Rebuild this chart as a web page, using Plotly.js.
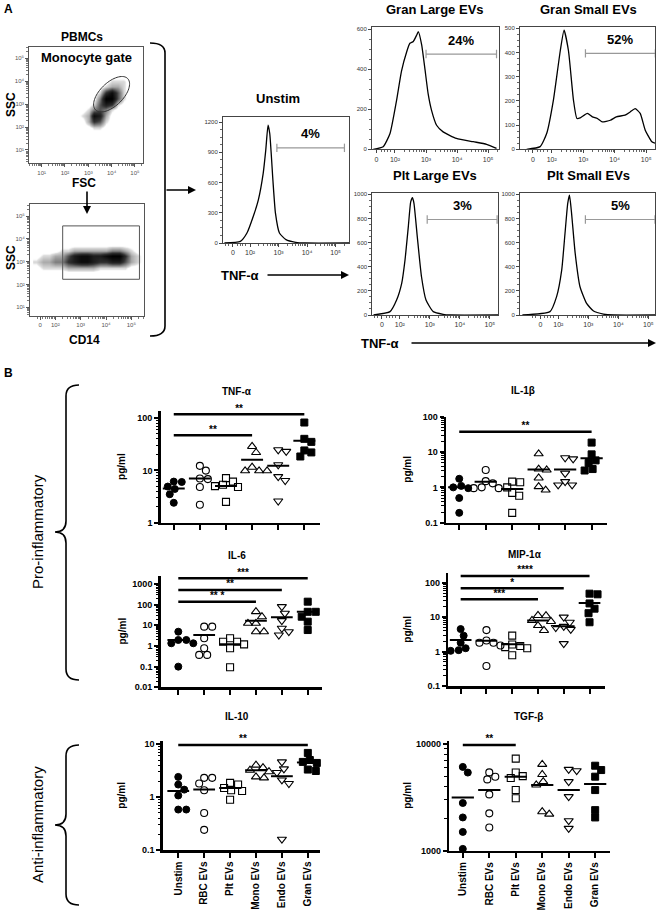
<!DOCTYPE html>
<html><head><meta charset="utf-8">
<script src="https://cdn.plot.ly/plotly-3.0.1.min.js"></script>
<style>html,body{margin:0;padding:0;background:#fff}#chart{width:662px;height:922px}</style>
</head><body><div id="chart"></div>
<script>
// ================= DATA =================
const categories = ["Unstim", "RBC EVs", "Plt EVs", "Mono EVs", "Endo EVs", "Gran EVs"];

// Panel B: cytokine values (pg/ml), one inner array per category
const tnfValues  = [[6.1,6.0,4.9,4.4,3.5,2.4],[12.2,9.9,7.0,6.8,4.8,2.2],[7.1,6.1,5.3,5.0,4.8,2.5],[28.6,21.9,11.5,9.8,9.8,9.8],[24.7,23,12.8,7.6,6.4,2.6],[82,40,35,24,22,18.4]];
const tnfCenter  = [4.5,7.0,5.0,15.9,12.2,36.7];
const tnfSig     = [[0,5,118,"**"],[0,3,47,"**"]];

const il1bValues = [[1.75,1.1,1.0,0.95,0.5,0.19],[3.1,1.5,1.3,1.0,0.95,0.95],[1.45,1.4,1.0,0.7,0.58,0.19],[8.9,3.3,3.1,1.85,1.05,0.84],[6.9,6.4,2.5,1.45,1.17,1.17],[18.5,8.6,5.8,4.9,3.3,3.0]];
const il1bCenter = [1.0,1.45,0.9,3.2,3.2,6.7];
const il1bSig    = [[0,5,37.6,"**"]];

const il6Values  = [[4.9,1.95,1.95,1.35,1.35,0.1],[8.6,8.6,2.35,0.77,0.37,0.37],[2.35,1.6,1.6,1.2,0.77,0.093],[46,26,12.5,12.5,4.9,4.9],[80,38,16.8,7.2,4.9,3.4],[139,45,45,26,15,5.9]];
const il6Center  = [1.95,3.4,1.2,16.8,24.4,45.7];
const il6Sig     = [[0,5,1890,"***"],[0,4,513,"**"],[0,3,139,"** *"]];

const mipValues  = [[4.5,2.9,1.8,1.25,1.1,1.05],[4.2,2.1,1.8,1.8,1.5,0.38],[2.9,1.6,1.45,1.35,1.25,0.78],[11.2,11.0,8.0,7.5,5.7,4.1],[10,7.1,5.4,5.0,4.4,1.7],[48,46,25,17.6,13,7.1]];
const mipCenter  = [2.15,2.06,1.64,8.0,5.4,25.8];
const mipSig     = [[0,5,157,"****"],[0,4,69,"*"],[0,3,33,"***"]];

const il10Values = [[2.4,1.72,1.38,1.07,0.58,0.58],[2.3,2.3,1.8,1.34,0.5,0.24],[1.85,1.72,1.48,1.34,1.3,0.89],[4.0,3.6,3.2,3.0,2.4,2.3],[4.6,3.4,2.9,2.1,1.8,0.16],[6.8,5.0,4.6,4.4,3.3,3.1]];
const il10Center = [1.3,1.38,1.48,3.2,2.47,4.5];
const il10Sig    = [[0,5,9.6,"**"]];

const tgfValues  = [[6100,5400,2800,2050,1500,1040],[5420,4940,4660,3370,2240,1650],[7300,5400,5000,4800,3700,3100],[6440,5180,4440,4130,2320,2200],[5780,5620,4440,3210,1910,1620],[6260,5700,4940,3700,2400,2050]];
const tgfCenter  = [3160,3700,4940,4130,3700,4220];
const tgfSig     = [[0,2,9800,"**"]];

// Panel A: TNF-α histograms (x = log10 fluorescence position, y = count)
const unstimHistX    = [1.1,1.66,1.89,2.11,2.29,2.46,2.55,2.63,2.69,2.8,2.89,3.03,3.26,3.6,3.94,5.5];
const unstimHistY    = [0,16,99,263,428,691,921,1168,1086,625,296,99,33,7,0,0];
const granLargeHistX = [1.3,1.62,1.84,2.05,2.21,2.38,2.48,2.59,2.7,2.75,2.86,2.96,3.07,3.18,3.34,3.55,3.98,4.52,4.95,5.27];
const granLargeHistY = [0,13,79,243,390,488,529,538,570,587,521,406,275,193,120,87,54,38,25,5];
const granSmallHistX = [1.2,1.63,1.84,2.05,2.27,2.39,2.53,2.69,2.8,2.92,3.13,3.29,3.45,3.6,3.86,4.05,4.33,4.49,4.65,4.81,4.97,5.18,5.29];
const granSmallHistY = [0,11,66,202,407,492,407,202,127,131,148,134,127,113,120,134,141,154,168,148,79,31,25];
const pltLargeHistX  = [1.12,1.67,1.89,2.06,2.17,2.28,2.36,2.42,2.47,2.58,2.72,2.87,3.11,3.44,3.67,5.3];
const pltLargeHistY  = [0,28,124,262,455,730,937,972,923,647,317,124,28,6,0,0];
const pltSmallHistX  = [0.8,1.72,1.94,2.11,2.22,2.31,2.37,2.44,2.56,2.72,2.94,3.17,3.5,3.83,5.3];
const pltSmallHistY  = [0,28,152,372,675,923,992,840,510,234,96,33,8,0,0];
// gates: [start, end, level, label]
const unstimGate    = [2.94,5.31,944,"4%"];
const granLargeGate = [3.0,5.27,475,"24%"];
const granSmallGate = [3.07,5.29,396,"52%"];
const pltLargeGate  = [2.91,5.24,791,"3%"];
const pltSmallGate  = [2.9,5.22,791,"5%"];

// Panel A: scatter density (decade positions)
const pbmcFscBins = [2.5,2.75,3.0,3.25,3.5,3.75,4.0,4.25,4.5,4.75,5.0];
const pbmcSscBins = [1.75,2.0,2.25,2.5,2.75,3.0,3.25,3.5,3.75,4.0,4.25];
const pbmcDensity = [
 [0,0,0,0,0,0,0,0,0,0,0],
 [0,0,0,1,1,0,0,0,0,0,0],
 [0,0,2,5,4,1,0,0,0,0,0],
 [0,1,2,7,6,2,0,0,0,0,0],
 [0,0,1,3,4,3,1,0,0,0,0],
 [0,0,0,1,4,6,5,1,0,0,0],
 [0,0,0,0,3,8,8,4,1,0,0],
 [0,0,0,0,1,5,7,4,1,0,0],
 [0,0,0,0,0,1,2,2,1,0,0],
 [0,0,0,0,0,0,1,1,1,0,0],
 [0,0,0,0,0,0,0,0,0,0,0]];
const cd14Bins    = [1.25,1.5,1.75,2.0,2.25,2.5,2.75,3.0,3.25,3.5,3.75,4.0,4.25,4.5,4.75,5.0,5.25,5.5];
const cd14SscBins = [2.5,2.75,3.0,3.25,3.5,3.75];
const cd14Density = [
 [0,0,0,0,0,0,0,0,0,0,0,0,0,0,0,0,0,0],
 [0,1,1,1,1,2,2,2,2,2,1,1,1,1,1,0,0,0],
 [1,2,2,3,3,5,6,7,7,6,5,5,6,6,4,2,1,0],
 [0,1,1,2,2,4,6,7,7,6,6,7,8,8,5,2,1,0],
 [0,0,0,0,1,1,2,2,2,2,2,2,3,3,2,1,0,0],
 [0,0,0,0,0,0,0,0,0,0,0,0,0,0,0,0,0,0]];
// gates: ellipse [cx, cy, semi-major, semi-minor, angle deg], rectangle [x0,x1,y0,y1]
const monocyteGate = [4.0,3.43,0.97,0.5,45];
const cd14Gate = [2.29,5.32,2.23,4.57];

// ================= BUILD =================
const W = 662, H = 922;
const FONT = '"Liberation Sans", Arial, Helvetica, sans-serif';
const px2x = p => p / W, px2y = p => 1 - p / H;
const P = (x, y) => (x / W).toFixed(5) + ',' + (1 - y / H).toFixed(5);
const sfx = n => n === 1 ? '' : String(n);

const traces = [];
const layout = {
  width: W, height: H, margin: {l:0, r:0, t:0, b:0},
  paper_bgcolor: '#fff', plot_bgcolor: 'rgba(0,0,0,0)',
  font: {family: FONT, color: '#000'}, showlegend: false, hovermode: false,
  annotations: [], shapes: []
};

function txt(t, x, y, size, o) {
  o = o || {};
  return {text: t, x: px2x(x), y: px2y(y), xref: 'paper', yref: 'paper', showarrow: false,
    xanchor: 'center', yanchor: 'middle', textangle: o.angle || 0,
    font: {family: FONT, size: size, color: '#000', weight: o.normal ? 'normal' : 'bold'}};
}
function arrow(x0, y0, x1, y1) {
  return {text: '', x: px2x(x1), y: px2y(y1), xref: 'paper', yref: 'paper', ax: x0 - x1, ay: y0 - y1,
    axref: 'pixel', ayref: 'pixel', showarrow: true, arrowhead: 2, arrowsize: 1, arrowwidth: 1.6, arrowcolor: '#000'};
}

const SUP = {1: '¹', 2: '²', 3: '³', 4: '⁴', 5: '⁵'};
const sup = n => '10' + SUP[n];
function logMinor(lo, hi) {
  const v = [];
  for (let d = Math.floor(lo); d <= Math.ceil(hi); d++) for (let k = 2; k <= 9; k++) {
    const p = d + Math.log10(k); if (p > lo && p < hi) v.push(p);
  }
  return v;
}

// ---- flow scatter plots ----
function flowScatter(n, box, xr, yr, xt, xtt, yt, ytt, xs, ys, z) {
  const s = sfx(n);
  layout['xaxis' + s] = {domain: [px2x(box[0]), px2x(box[1])], range: xr, anchor: 'y' + s,
    showline: true, mirror: true, linecolor: '#555', linewidth: 1, showgrid: false, zeroline: false,
    ticks: 'outside', ticklen: 3, tickcolor: '#555', tickmode: 'array', tickvals: xt, ticktext: xtt,
    tickfont: {size: 6, color: '#555'},
    minor: {tickmode: 'array', tickvals: logMinor(xr[0], xr[1]), ticks: 'outside', ticklen: 2, tickcolor: '#777'}};
  layout['yaxis' + s] = {domain: [px2y(box[3]), px2y(box[2])], range: yr, anchor: 'x' + s,
    showline: true, mirror: true, linecolor: '#555', linewidth: 1, showgrid: false, zeroline: false,
    ticks: 'outside', ticklen: 3, tickcolor: '#555', tickmode: 'array', tickvals: yt, ticktext: ytt,
    tickfont: {size: 6, color: '#555'},
    minor: {tickmode: 'array', tickvals: logMinor(yr[0], yr[1]), ticks: 'outside', ticklen: 2, tickcolor: '#777'}};
  traces.push({type: 'heatmap', x: xs, y: ys, z: z, xaxis: 'x' + s, yaxis: 'y' + s, zsmooth: 'best',
    zmin: 0, zmax: 8, showscale: false, hoverinfo: 'skip',
    colorscale: [[0, 'rgba(255,255,255,0)'], [0.05, 'rgba(255,255,255,0)'], [0.1, 'rgb(225,225,225)'], [0.3, 'rgb(150,150,150)'], [0.6, 'rgb(50,50,50)'], [0.85, 'rgb(15,15,15)'], [1, 'rgb(0,0,0)']]});
}
const decTicks = [1,2,3,4,5], decText = decTicks.map(sup);
flowScatter(1, [29.3,143.3,46.7,163.3], [0.47,5.36], [0.42,5.5], decTicks, decText, decTicks, decText, pbmcFscBins, pbmcSscBins, pbmcDensity);
flowScatter(2, [30,144,204,316], [1.0,5.5], [0.62,5.53], [1.4,2,3,4,5], ['0'].concat([2,3,4,5].map(sup)), decTicks, decText, cd14Bins, cd14SscBins, cd14Density);
// gates
(function(){
  const [cx, cy, a, b, ang] = monocyteGate, t = ang * Math.PI / 180;
  let d = '';
  for (let i = 0; i <= 72; i++) {
    const u = i / 72 * 2 * Math.PI;
    const x = cx + a * Math.cos(u) * Math.cos(t) - b * Math.sin(u) * Math.sin(t);
    const y = cy + a * Math.cos(u) * Math.sin(t) + b * Math.sin(u) * Math.cos(t);
    d += (i ? 'L' : 'M') + x.toFixed(4) + ',' + y.toFixed(4);
  }
  layout.shapes.push({type: 'path', xref: 'x', yref: 'y', path: d + 'Z', line: {color: '#333', width: 1}});
  layout.shapes.push({type: 'rect', xref: 'x2', yref: 'y2', x0: cd14Gate[0], x1: cd14Gate[1], y0: cd14Gate[2], y1: cd14Gate[3], line: {color: '#555', width: 1}});
})();

// ---- histograms ----
function histPanel(n, box, xr, yr, ytv, hx, hy, gate) {
  const s = sfx(n);
  layout['xaxis' + s] = {domain: [px2x(box[0]), px2x(box[1])], range: xr, anchor: 'y' + s,
    showline: true, mirror: true, linecolor: '#444', linewidth: 1, showgrid: false, zeroline: false,
    ticks: 'outside', ticklen: 3, tickcolor: '#444', tickmode: 'array', tickvals: [1.4,2,3,4,5],
    ticktext: ['0'].concat([2,3,4,5].map(sup)), tickfont: {size: 7, color: '#333'},
    minor: {tickmode: 'array', tickvals: [1.15,1.25,1.55,1.65,1.75,1.85].concat(logMinor(2, xr[1])), ticks: 'outside', ticklen: 2, tickcolor: '#666'}};
  layout['yaxis' + s] = {domain: [px2y(box[3]), px2y(box[2])], range: yr, anchor: 'x' + s,
    showline: true, mirror: true, linecolor: '#444', linewidth: 1, showgrid: false, zeroline: false,
    ticks: 'outside', ticklen: 3, tickcolor: '#444', tickmode: 'array', tickvals: ytv,
    tickfont: {size: 6, color: '#333'},
    minor: {dtick: (ytv[1] - ytv[0]) / 4, ticks: 'outside', ticklen: 2, tickcolor: '#666'}};
  traces.push({type: 'scatter', mode: 'lines', x: hx, y: hy, xaxis: 'x' + s, yaxis: 'y' + s,
    line: {color: '#000', width: 1.3, shape: 'spline', smoothing: 0.5}, hoverinfo: 'skip'});
  traces.push({type: 'scatter', mode: 'lines+markers', x: [gate[0], gate[1]], y: [gate[2], gate[2]],
    xaxis: 'x' + s, yaxis: 'y' + s, line: {color: '#999', width: 1.2},
    marker: {symbol: 'line-ns-open', size: 6, color: '#999', line: {color: '#999', width: 1.2}}, hoverinfo: 'skip'});
  layout.annotations.push({text: gate[3], x: (gate[0] + gate[1]) / 2, y: gate[2], xref: 'x' + s, yref: 'y' + s,
    showarrow: false, yshift: 14, xanchor: 'center', yanchor: 'middle', font: {family: FONT, size: 13, weight: 'bold', color: '#000'}});
}
histPanel(3, [223,349,117,243], [1.05,5.47], [0,1250], [0,300,600,900,1200], unstimHistX, unstimHistY, unstimGate);
histPanel(4, [372,499,27,149.3], [1.26,5.35], [0,610], [0,200,400,600], granLargeHistX, granLargeHistY, granLargeGate);
histPanel(5, [520,655,27,149.3], [0.99,5.28], [0,505], [0,100,200,300,400,500], granSmallHistX, granSmallHistY, granSmallGate);
histPanel(6, [372.3,498.3,193.3,315], [1.08,5.28], [0,1008], [0,200,400,600,800,1000], pltLargeHistX, pltLargeHistY, pltLargeGate);
histPanel(7, [520,655.3,193.3,315], [0.72,5.23], [0,1008], [0,200,400,600,800,1000], pltSmallHistX, pltSmallHistY, pltSmallGate);

// ---- dot plots ----
const markerStyles = [
  {symbol: 'circle', size: 7, color: '#000', line: {color: '#000', width: 1}},
  {symbol: 'circle-open', size: 7, color: '#000', line: {color: '#000', width: 1.1}},
  {symbol: 'square-open', size: 7, color: '#000', line: {color: '#000', width: 1.1}},
  {symbol: 'triangle-up-open', size: 8, color: '#000', line: {color: '#000', width: 1.1}},
  {symbol: 'triangle-down-open', size: 8, color: '#000', line: {color: '#000', width: 1.1}},
  {symbol: 'square', size: 7, color: '#000', line: {color: '#000', width: 1}}
];
function swarm(groups, pxX, pxDec, diam) {
  return groups.map((vals, gi) => {
    const placed = [], gx = [], gy = [];
    vals.map((v, i) => i).sort((a, b) => vals[b] - vals[a]).forEach(i => {
      const yp = Math.log10(vals[i]) * pxDec;
      let off = 0;
      for (let k = 0; k < 60; k++) {
        const c = k === 0 ? 0 : (k % 2 ? Math.ceil(k / 2) : -Math.ceil(k / 2));
        if (placed.every(p => Math.hypot(p[0] - c, p[1] - yp) >= diam)) { off = c; break; }
      }
      placed.push([off, yp]); gx.push(gi + off / pxX); gy.push(vals[i]);
    });
    return [gx, gy];
  });
}
function dotPanel(c) {
  const s = sfx(c.n);
  layout['xaxis' + s] = {domain: [px2x(c.box[0]), px2x(c.box[1])], range: c.xr, anchor: 'y' + s,
    showline: true, linecolor: '#000', linewidth: 2.5, showgrid: false, zeroline: false,
    ticks: 'outside', ticklen: 5, tickwidth: 2, tickcolor: '#000', tickmode: 'array', tickvals: [0,1,2,3,4,5],
    ticktext: categories, showticklabels: c.cats, tickangle: -90,
    tickfont: {family: FONT, size: 10, weight: 'bold', color: '#000'}};
  const mv = [];
  for (let d = Math.floor(c.yr[0]); d < Math.ceil(c.yr[1]); d++) for (let k = 2; k <= 9; k++) {
    const p = d + Math.log10(k); if (p > c.yr[0] && p < c.yr[1] && p < c.maxTick) mv.push(Math.pow(10, p));
  }
  layout['yaxis' + s] = {domain: [px2y(c.box[3]), px2y(c.box[2])], type: 'log', range: c.yr, anchor: 'x' + s,
    showline: true, linecolor: '#000', linewidth: 2.5, showgrid: false, zeroline: false,
    ticks: 'outside', ticklen: 4, tickwidth: 2, tickcolor: '#000', tickmode: 'array', tickvals: c.tv, ticktext: c.tt,
    tickfont: {family: FONT, size: 9, weight: 'bold', color: '#000'},
    minor: {tickmode: 'array', tickvals: mv, ticks: 'outside', ticklen: 2.5, tickwidth: 1, tickcolor: '#000'}};
  const pxX = (c.box[1] - c.box[0]) / (c.xr[1] - c.xr[0]);
  const pxDec = (c.box[3] - c.box[2]) / (c.yr[1] - c.yr[0]);
  swarm(c.vals, pxX, pxDec, 7.2).forEach((g, gi) => {
    traces.push({type: 'scatter', mode: 'markers', x: g[0], y: g[1], xaxis: 'x' + s, yaxis: 'y' + s,
      marker: markerStyles[gi], cliponaxis: false, hoverinfo: 'skip'});
  });
  const lx = [], ly = [];
  c.center.forEach((m, i) => { lx.push(i - 0.42, i + 0.42, null); ly.push(m, m, null); });
  traces.push({type: 'scatter', mode: 'lines', x: lx, y: ly, xaxis: 'x' + s, yaxis: 'y' + s,
    line: {color: '#000', width: 2}, hoverinfo: 'skip'});
  const bx = [], by = [], tx = [], ty = [], tt = [];
  c.sig.forEach(b => { bx.push(b[0], b[1], null); by.push(b[2], b[2], null); tx.push((b[0] + b[1]) / 2); ty.push(b[2]); tt.push(b[3]); });
  traces.push({type: 'scatter', mode: 'lines', x: bx, y: by, xaxis: 'x' + s, yaxis: 'y' + s,
    line: {color: '#000', width: 2.5}, hoverinfo: 'skip'});
  traces.push({type: 'scatter', mode: 'text', x: tx, y: ty, text: tt, textposition: 'top center', cliponaxis: false,
    xaxis: 'x' + s, yaxis: 'y' + s, textfont: {family: FONT, size: 10, weight: 'bold', color: '#000'}, hoverinfo: 'skip'});
  layout.annotations.push(txt(c.title, c.titleX, c.titleY, 10));
  layout.annotations.push(txt('pg/ml', c.labX, (c.box[2] + c.box[3]) / 2, 10, {angle: -90}));
}
dotPanel({n: 8, title: 'TNF-α', vals: tnfValues, center: tnfCenter, sig: tnfSig, box: [160.7,320,411.2,522.7], xr: [-0.5,5.6], yr: [0,2.13], maxTick: 2, tv: [1,10,100], tt: ['1','10','100'], cats: false, titleX: 237, titleY: 391, labX: 122});
dotPanel({n: 9, title: 'IL-1β', vals: il1bValues, center: il1bCenter, sig: il1bSig, box: [446,606.7,416.7,522.7], xr: [-0.5,5.57], yr: [-1,2], maxTick: 2, tv: [0.1,1,10,100], tt: ['0.1','1','10','100'], cats: false, titleX: 523, titleY: 390, labX: 408});
dotPanel({n: 10, title: 'IL-6', vals: il6Values, center: il6Center, sig: il6Sig, box: [160.7,321.7,575.7,687.3], xr: [-0.68,5.54], yr: [-2,3.4], maxTick: 3, tv: [0.01,0.1,1,10,100,1000], tt: ['0.01','0.1','1','10','100','1000'], cats: false, titleX: 237, titleY: 555, labX: 122});
dotPanel({n: 11, title: 'MIP-1α', vals: mipValues, center: mipCenter, sig: mipSig, box: [448.3,605,573.4,686], xr: [-0.48,5.6], yr: [-1,2.27], maxTick: 2, tv: [0.1,1,10,100], tt: ['0.1','1','10','100'], cats: false, titleX: 525, titleY: 554, labX: 408});
dotPanel({n: 12, title: 'IL-10', vals: il10Values, center: il10Center, sig: il10Sig, box: [162.7,320,741.4,850], xr: [-0.6,5.47], yr: [-1,1.05], maxTick: 1, tv: [0.1,1,10], tt: ['0.1','1','10'], cats: true, titleX: 237, titleY: 716, labX: 122});
dotPanel({n: 13, title: 'TGF-β', vals: tgfValues, center: tgfCenter, sig: tgfSig, box: [449.3,610,740.8,850.7], xr: [-0.51,5.56], yr: [3,4.03], maxTick: 4, tv: [1000,10000], tt: ['1000','10000'], cats: true, titleX: 528, titleY: 716, labX: 408});

// ---- panel A texts, arrows, bracket ----
layout.annotations.push(
  txt('A', 8, 9, 12), txt('PBMCs', 82, 37, 12), txt('Monocyte gate', 86, 57, 13),
  txt('SSC', 11, 105, 12, {angle: -90}), txt('FSC', 84, 183, 12),
  txt('SSC', 11, 258, 12, {angle: -90}), txt('CD14', 84, 340, 12),
  txt('Unstim', 278, 98, 13), txt('Gran Large EVs', 435, 9, 13), txt('Gran Small EVs', 588, 9, 13),
  txt('Plt Large EVs', 435, 176, 13), txt('Plt Small EVs', 588, 176, 13),
  txt('TNF-α', 240, 275, 13), txt('TNF-α', 380, 343, 13),
  txt('B', 8, 373, 12),
  txt('Pro-inflammatory', 37, 532, 15, {angle: -90, normal: true}),
  txt('Anti-inflammatory', 37, 825, 15, {angle: -90, normal: true}),
  arrow(87, 190, 87, 214), arrow(165, 190, 196, 190), arrow(266, 275, 349, 275), arrow(410, 343, 656, 343)
);
const lineStyle = {color: '#000', width: 1.6};
layout.shapes.push(
  {type: 'path', xref: 'paper', yref: 'paper', line: lineStyle,
   path: 'M' + P(150,43) + ' Q' + P(165,43) + ' ' + P(165,53) + ' L' + P(165,326) + ' Q' + P(165,336) + ' ' + P(150,336)},
  {type: 'path', xref: 'paper', yref: 'paper', line: lineStyle,
   path: 'M' + P(79,385) + ' Q' + P(66,385) + ' ' + P(66,396) + ' L' + P(66,521) + ' Q' + P(66,532) + ' ' + P(55,532) +
         ' Q' + P(66,532) + ' ' + P(66,543) + ' L' + P(66,669) + ' Q' + P(66,680) + ' ' + P(79,680)},
  {type: 'path', xref: 'paper', yref: 'paper', line: lineStyle,
   path: 'M' + P(79,745) + ' Q' + P(66,745) + ' ' + P(66,756) + ' L' + P(66,814) + ' Q' + P(66,825) + ' ' + P(55,825) +
         ' Q' + P(66,825) + ' ' + P(66,836) + ' L' + P(66,894) + ' Q' + P(66,905) + ' ' + P(79,905)}
);

Plotly.newPlot('chart', traces, layout, {staticPlot: true, displayModeBar: false});
</script>
</body></html>
